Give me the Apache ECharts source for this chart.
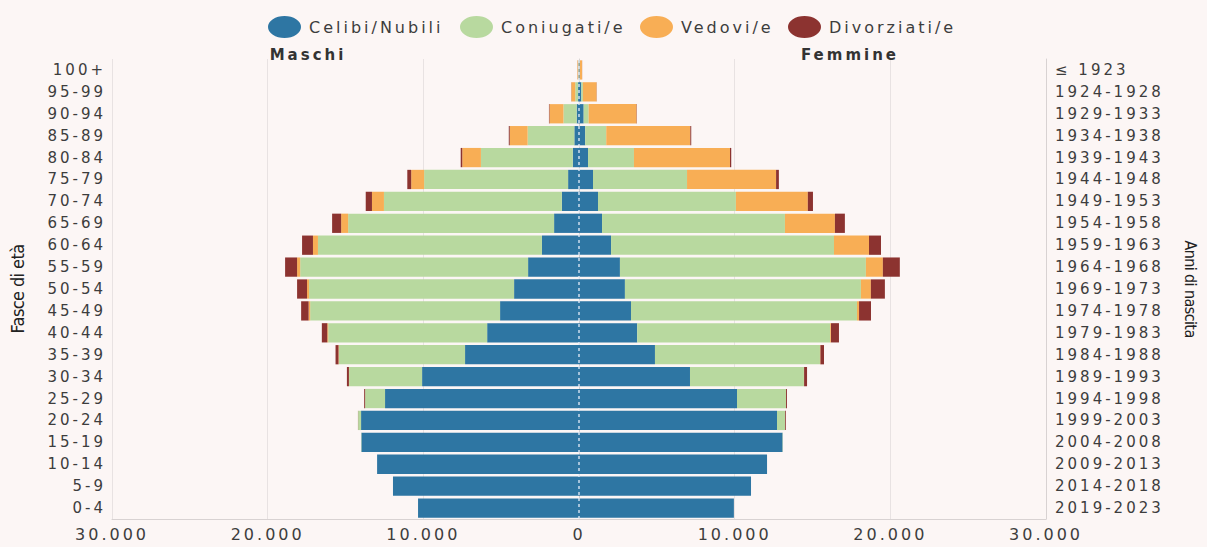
<!DOCTYPE html>
<html>
<head>
<meta charset="utf-8">
<script src="https://cdn.jsdelivr.net/npm/echarts@6/dist/echarts.min.js"></script>
<style>
  html, body { margin: 0; padding: 0; background: #fcf6f5; overflow: hidden; }
  #chart-container { width: 1207px; height: 547px; }
  #chart-container text { letter-spacing: 3px; }
  #chart-container text[style*="Condensed"] { letter-spacing: -0.6px; }
</style>
</head>
<body>
<div id="chart-container"></div>
<script>
var dom = document.getElementById("chart-container");
var myChart = echarts.init(dom, null, { renderer: "svg" });

// fasce di eta, dal basso verso l'alto
const ages = ["0-4", "5-9", "10-14", "15-19", "20-24", "25-29", "30-34", "35-39", "40-44", "45-49",
  "50-54", "55-59", "60-64", "65-69", "70-74", "75-79", "80-84", "85-89", "90-94", "95-99", "100+"];
const birthYears = ["2019-2023", "2014-2018", "2009-2013", "2004-2008", "1999-2003", "1994-1998",
  "1989-1993", "1984-1988", "1979-1983", "1974-1978", "1969-1973", "1964-1968", "1959-1963",
  "1954-1958", "1949-1953", "1944-1948", "1939-1943", "1934-1938", "1929-1933", "1924-1928", "\u2264 1923"];

const statusNames = ["Celibi/Nubili", "Coniugati/e", "Vedovi/e", "Divorziati/e"];
const statusColors = ["#2e76a3", "#b8d99f", "#f8ae55", "#8c3330"];

// Maschi
const maleCelibi = [10340, 11950, 12970, 13980, 14000, 12460, 10080, 7320, 5900, 5070,
  4170, 3270, 2380, 1600, 1100, 700, 400, 300, 150, 60, 30];
const maleConiugati = [0, 0, 0, 20, 190, 1280, 4690, 8100, 10210, 12200,
  13170, 14640, 14390, 13230, 11430, 9250, 5900, 3000, 850, 180, 20];
const maleVedovi = [0, 0, 0, 0, 0, 0, 10, 30, 60, 100,
  130, 200, 320, 450, 770, 830, 1200, 1150, 900, 250, 50];
const maleDivorziati = [0, 0, 0, 0, 10, 60, 130, 190, 350, 480,
  640, 770, 700, 580, 400, 250, 100, 60, 30, 10, 5];

// Femmine
const femCelibi = [9950, 11050, 12080, 13080, 12720, 10150, 7130, 4880, 3740, 3340,
  2950, 2630, 2060, 1480, 1220, 900, 580, 400, 300, 150, 40];
const femConiugati = [0, 0, 0, 20, 520, 3150, 7320, 10600, 12400, 14520,
  15160, 15800, 14320, 11750, 8860, 6040, 2950, 1350, 320, 100, 10];
const femVedovi = [0, 0, 0, 0, 0, 0, 10, 30, 50, 130,
  640, 1090, 2250, 3210, 4620, 5720, 6170, 5400, 3080, 880, 150];
const femDivorziati = [0, 0, 0, 0, 50, 60, 190, 230, 510, 770,
  900, 1090, 770, 640, 330, 180, 80, 60, 20, 10, 5];

const maleData = [maleCelibi, maleConiugati, maleVedovi, maleDivorziati];
const femData = [femCelibi, femConiugati, femVedovi, femDivorziati];

const textColor = "#3d3d3d";
const font = "DejaVu Sans";
const narrowFont = "'DejaVu Sans Condensed', 'Liberation Sans Narrow', sans-serif";

function fmt(v) {
  return Math.abs(v).toString().replace(/\B(?=(\d{3})+(?!\d))/g, ".");
}

var series = [];
statusNames.forEach(function (name, i) {
  series.push({
    name: name,
    type: "bar",
    stack: "maschi",
    barGap: "-100%",
    barCategoryGap: "12%",
    itemStyle: { color: statusColors[i] },
    data: maleData[i].map(function (v) { return -v; }),
  });
});
statusNames.forEach(function (name, i) {
  series.push({
    name: name,
    type: "bar",
    stack: "femmine",
    barGap: "-100%",
    barCategoryGap: "12%",
    itemStyle: { color: statusColors[i] },
    data: femData[i],
  });
});
// linea centrale tratteggiata
series[0].markLine = {
  silent: true,
  symbol: "none",
  label: { show: false },
  lineStyle: { color: "rgba(235,240,250,0.85)", type: [3, 3], width: 1.5 },
  data: [{ xAxis: 0 }],
  z: 10,
};

// una legenda per voce, per tenere le posizioni dell'originale
const legendLeft = [263, 455, 635, 783];
var legends = statusNames.map(function (name, i) {
  return {
    top: 11,
    left: legendLeft[i],
    itemGap: 0,
    itemWidth: 35,
    itemHeight: 22,
    icon: "path://M0,10 A15,10 0 1,1 30,10 A15,10 0 1,1 0,10 Z",
    data: [name],
    textStyle: { fontFamily: font, fontSize: 16, color: textColor, padding: [0, 0, 0, 2] },
  };
});

var option = {
  backgroundColor: "#fcf6f5",
  textStyle: { fontFamily: font, color: textColor },
  animation: false,
  title: [
    {
      text: "Maschi",
      left: 303,
      top: 42,
      textAlign: "center",
      textStyle: { fontFamily: font, fontSize: 15, fontWeight: "bold", color: "#333" },
    },
    {
      text: "Femmine",
      left: 845,
      top: 42,
      textAlign: "center",
      textStyle: { fontFamily: font, fontSize: 15, fontWeight: "bold", color: "#333" },
    },
  ],
  legend: legends,
  grid: { left: 112, right: 161, top: 59, bottom: 28, outerBoundsMode: "none", containLabel: false },
  xAxis: {
    type: "value",
    min: -30000,
    max: 30000,
    interval: 10000,
    axisLine: { show: true, lineStyle: { color: "#d8d2d2" } },
    axisTick: { show: false },
    splitLine: { lineStyle: { color: "#e8e2e2" } },
    axisLabel: {
      margin: 7,
      fontSize: 16,
      color: textColor,
      fontFamily: font,
      formatter: fmt,
    },
  },
  yAxis: [
    {
      type: "category",
      position: "left",
      data: ages,
      axisTick: { show: false },
      axisLine: { show: true, lineStyle: { color: "#d8d2d2" } },
      axisLabel: { margin: 6, fontSize: 15, color: textColor, fontFamily: font },
      name: "Fasce di et\u00e0",
      nameLocation: "middle",
      nameRotate: 90,
      nameGap: 86,
      nameTextStyle: { fontFamily: narrowFont, fontSize: 18, color: "#222" },
    },
    {
      type: "category",
      position: "right",
      data: birthYears,
      axisTick: { show: false },
      axisLine: { show: true, lineStyle: { color: "#d8d2d2" } },
      axisLabel: { margin: 9, fontSize: 15, color: textColor, fontFamily: font },
      name: "Anni di nascita",
      nameLocation: "middle",
      nameRotate: -90,
      nameGap: 136,
      nameTextStyle: { fontFamily: narrowFont, fontSize: 16, color: "#222" },
    },
  ],
  series: series,
};

if (option && typeof option === "object") {
  myChart.setOption(option);
}

window.addEventListener("resize", myChart.resize);
</script>
</body>
</html>
